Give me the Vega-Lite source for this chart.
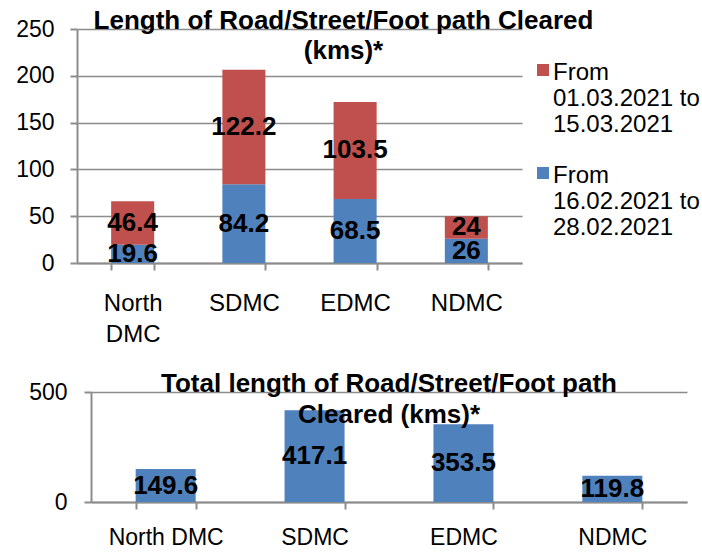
{
  "$schema": "https://vega.github.io/schema/vega-lite/v6.json",
  "background": "white",
  "padding": {"left": 15, "top": 8, "right": 0, "bottom": 0},
  "spacing": 25,
  "config": {
    "font": "Liberation Sans",
    "view": {"stroke": null},
    "axis": {
      "labelFont": "Liberation Sans",
      "labelColor": "#000000",
      "domainColor": "#8c8c8c",
      "tickColor": "#8c8c8c",
      "gridColor": "#8c8c8c",
      "domainWidth": 2,
      "tickWidth": 2,
      "gridWidth": 1.7
    },
    "legend": {
      "labelFont": "Liberation Sans",
      "labelColor": "#000000"
    },
    "title": {"font": "Liberation Sans", "color": "#000000"}
  },
  "datasets": {
    "periods": [
      {"district": "North DMC", "period": "From 16.02.2021 to 28.02.2021", "km": 19.6},
      {"district": "North DMC", "period": "From 01.03.2021 to 15.03.2021", "km": 46.4},
      {"district": "SDMC", "period": "From 16.02.2021 to 28.02.2021", "km": 84.2},
      {"district": "SDMC", "period": "From 01.03.2021 to 15.03.2021", "km": 122.2},
      {"district": "EDMC", "period": "From 16.02.2021 to 28.02.2021", "km": 68.5},
      {"district": "EDMC", "period": "From 01.03.2021 to 15.03.2021", "km": 103.5},
      {"district": "NDMC", "period": "From 16.02.2021 to 28.02.2021", "km": 26},
      {"district": "NDMC", "period": "From 01.03.2021 to 15.03.2021", "km": 24}
    ],
    "totals": [
      {"district": "North DMC", "total": 149.6},
      {"district": "SDMC", "total": 417.1},
      {"district": "EDMC", "total": 353.5},
      {"district": "NDMC", "total": 119.8}
    ]
  },
  "vconcat": [
    {
      "width": 445,
      "height": 234,
      "data": {"name": "periods"},
      "title": {
        "text": ["Length of Road/Street/Foot path Cleared", "(kms)*"],
        "fontSize": 26,
        "fontWeight": "bold",
        "lineHeight": 30,
        "offset": -46,
        "anchor": "middle",
        "dx": 44
      },
      "encoding": {
        "x": {
          "field": "district",
          "type": "nominal",
          "sort": ["North DMC", "SDMC", "EDMC", "NDMC"],
          "title": null,
          "scale": {"paddingInner": 0.613, "paddingOuter": 0.307},
          "axis": {
            "labelAngle": 0,
            "labelFontSize": 24,
            "labelExpr": "split(datum.label, ' ')",
            "labelLineHeight": 31,
            "labelBaseline": "top",
            "labelPadding": 21,
            "tickBand": "extent",
            "tickSize": 7
          }
        }
      },
      "layer": [
        {
          "mark": {"type": "bar"},
          "encoding": {
            "y": {
              "field": "km",
              "type": "quantitative",
              "stack": "zero",
              "title": null,
              "scale": {"domain": [0, 250], "nice": false},
              "axis": {
                "values": [0, 50, 100, 150, 200, 250],
                "labelFontSize": 23,
                "labelPadding": 16,
                "tickSize": 7,
                "grid": true
              }
            },
            "color": {
              "field": "period",
              "type": "nominal",
              "scale": {
                "domain": ["From 01.03.2021 to 15.03.2021", "From 16.02.2021 to 28.02.2021"],
                "range": ["#C0504D", "#4F81BD"]
              },
              "legend": {
                "title": null,
                "orient": "none",
                "legendX": 454,
                "legendY": 20,
                "symbolType": "M-1,0.5H1V2.5H-1Z",
                "symbolSize": 144,
                "symbolStrokeWidth": 0,
                "labelFontSize": 24,
                "labelBaseline": "top",
                "labelOffset": -2,
                "labelLimit": 300,
                "rowPadding": 15,
                "labelExpr": "[slice(datum.label, 0, 4), slice(datum.label, 5, 18), slice(datum.label, 19)]"
              }
            },
            "order": {"field": "period", "sort": "descending"}
          }
        },
        {
          "transform": [
            {"stack": "km", "groupby": ["district"], "sort": [{"field": "period", "order": "descending"}], "as": ["y0", "y1"]},
            {"fold": ["y0", "y1"], "as": ["edge", "pos"]}
          ],
          "mark": {"type": "text", "fontSize": 26, "fontWeight": "bold", "color": "#000000", "baseline": "middle"},
          "encoding": {
            "y": {"field": "pos", "aggregate": "mean", "type": "quantitative", "title": null},
            "text": {"field": "km", "type": "quantitative"},
            "detail": {"field": "period", "type": "nominal"}
          }
        }
      ]
    },
    {
      "width": 610,
      "height": 110,
      "data": {"name": "totals"},
      "title": {
        "text": ["Total length of Road/Street/Foot path", "Cleared (kms)*"],
        "fontSize": 26,
        "fontWeight": "bold",
        "lineHeight": 31,
        "offset": -47,
        "anchor": "middle",
        "dx": 7
      },
      "encoding": {
        "x": {
          "field": "district",
          "type": "nominal",
          "sort": ["North DMC", "SDMC", "EDMC", "NDMC"],
          "title": null,
          "scale": {"paddingInner": 0.597, "paddingOuter": 0.3, "range": [14, 610]},
          "axis": {
            "labelAngle": 0,
            "labelFontSize": 23,
            "labelBaseline": "top",
            "labelPadding": 17,
            "tickBand": "extent",
            "tickSize": 7
          }
        }
      },
      "layer": [
        {
          "mark": {"type": "bar", "color": "#4F81BD"},
          "encoding": {
            "y": {
              "field": "total",
              "type": "quantitative",
              "title": null,
              "scale": {"domain": [0, 500], "nice": false},
              "axis": {
                "values": [0, 500],
                "labelFontSize": 23,
                "labelPadding": 17,
                "tickSize": 7,
                "grid": true,
                "offset": -14
              }
            }
          }
        },
        {
          "transform": [
            {"stack": "total", "groupby": ["district"], "as": ["y0", "y1"]},
            {"fold": ["y0", "y1"], "as": ["edge", "pos"]}
          ],
          "mark": {"type": "text", "fontSize": 26, "fontWeight": "bold", "color": "#000000", "baseline": "middle"},
          "encoding": {
            "y": {"field": "pos", "aggregate": "mean", "type": "quantitative", "title": null},
            "text": {"field": "total", "type": "quantitative"}
          }
        }
      ]
    }
  ]
}
